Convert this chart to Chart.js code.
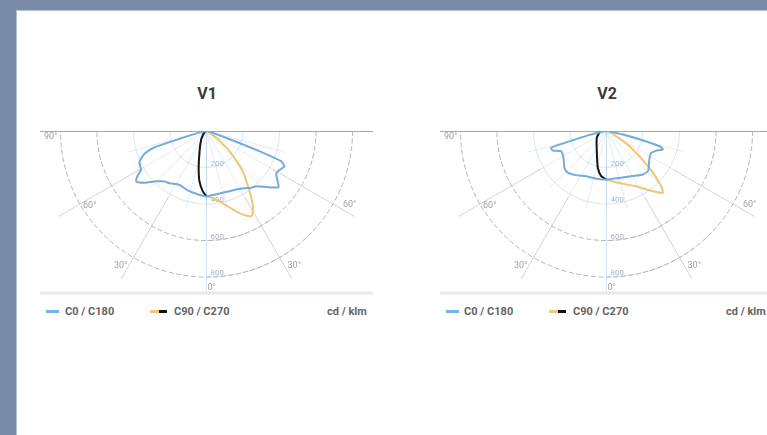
<!DOCTYPE html>
<html>
<head>
<meta charset="utf-8">
<script src="https://cdn.jsdelivr.net/npm/chart.js@4/dist/chart.umd.min.js"></script>
<style>
  body { margin: 0; width: 767px; height: 435px; overflow: hidden; background: #7b8cab; font-family: Roboto, "Noto Sans", sans-serif; }
  #page { position: absolute; left: 16px; top: 10px; width: 760px; height: 430px; background: #fff; border-left: 1px solid #b4bfd2; border-top: 1px solid #b4bfd2; }
  .panel { position: absolute; top: 0; width: 400px; height: 435px; }
  .title { position: absolute; left: 157px; top: 84px; width: 100px; text-align: center; font-size: 16px; line-height: 20px; font-weight: bold; color: #3c3c3c; }
  canvas { position: absolute; left: 30px; top: 120px; }
  .sw { position: absolute; top: 310px; height: 2.5px; }
  .lg { position: absolute; top: 305px; font-size: 11px; line-height: 13px; font-weight: bold; color: #646464; white-space: nowrap; }
</style>
</head>
<body>
<div id="page"></div>

<div class="panel" style="left:0px">
  <div class="title">V1</div>
  <canvas id="chartV1" width="353" height="185"></canvas>
  <div class="sw" style="left:46px;width:13px;background:#7ab3e2"></div>
  <div class="lg" style="left:65px">C0 / C180</div>
  <div class="sw" style="left:150px;width:9px;background:#f0c776"></div>
  <div class="sw" style="left:159px;width:8px;background:#111"></div>
  <div class="lg" style="left:174px">C90 / C270</div>
  <div class="lg" style="left:327px">cd / klm</div>
</div>

<div class="panel" style="left:400px">
  <div class="title">V2</div>
  <canvas id="chartV2" width="353" height="185"></canvas>
  <div class="sw" style="left:46px;width:13px;background:#7ab3e2"></div>
  <div class="lg" style="left:64px">C0 / C180</div>
  <div class="sw" style="left:149px;width:9px;background:#f0c776"></div>
  <div class="sw" style="left:158px;width:8px;background:#111"></div>
  <div class="lg" style="left:173px">C90 / C270</div>
  <div class="lg" style="left:326px">cd / klm</div>
</div>

<script>
// angles in degrees from nadir: negative = C180 / C270 side (left), positive = C0 / C90 side (right)
const v1C0Angles = [-90, -80, -76, -74, -72.5, -70, -67.5, -65.5, -62, -59.5, -57, -54.5, -51.5, -49, -45, -40, -35, -27, -18, -8, 0, 10, 21, 30, 38, 42, 46, 49.5, 52, 54.5, 58, 60.5, 63, 65.5, 68, 69, 70, 72, 78, 90];
const v1C0Values = [0, 20, 60, 150, 300, 360, 385, 403, 412, 415, 450, 473, 455, 429, 390, 360, 350, 330, 340, 350, 358, 350, 353, 365, 395, 407, 440, 476, 500, 480, 450, 448, 458, 469, 441, 320, 180, 60, 15, 0];
const v1C270Angles = [-90, -70, -55, -45, -32, -19, -12, -8, -3.5, 0];
const v1C270Values = [8, 10, 14, 25, 55, 117, 206, 278, 331, 358];
const v1C90Angles = [0, 8, 17, 23.5, 27.7, 30, 33, 35.5, 42, 48.7, 55, 65, 80, 90];
const v1C90Values = [358, 379, 439, 499, 527, 507, 460, 405, 297, 168, 65, 18, 5, 0];

const v2C0Angles = [-90, -82, -77, -75.5, -74, -73, -70, -66, -62, -55, -49, -43, -35, -24, -12, 0, 15, 30, 40, 46, 52, 58, 64, 68, 72, 74, 77, 82, 90];
const v2C0Values = [0, 20, 100, 150, 250, 317, 313, 272, 272, 285, 306, 312, 295, 271, 267, 266, 266, 285, 311, 316, 295, 278, 273, 290, 325, 302, 129, 20, 0];
const v2C270Angles = [-90, -83, -55, -25.6, -13.3, -6.7, 0];
const v2C270Values = [35, 38, 65, 123, 207, 249, 266];
const v2C90Angles = [0, 14, 28, 37.6, 42.3, 44.7, 49.4, 56.5, 62, 75, 90];
const v2C90Values = [266, 293, 343, 416, 458, 426, 310, 151, 60, 15, 0];

const rings = [200, 400, 600, 800];
const spokes = [30, 60];

const toXY = (angles, values) => angles.map((a, i) => {
  const r = a * Math.PI / 180;
  return { x: values[i] * Math.sin(r), y: -values[i] * Math.cos(r) };
});

const polarGrid = {
  id: "polarGrid",
  beforeDatasetsDraw(chart) {
    const { ctx, chartArea: a, scales: { x, y } } = chart;
    const cx = x.getPixelForValue(0);
    const cy = y.getPixelForValue(0);
    const rx = (v) => x.getPixelForValue(v) - cx;
    const ry = (v) => y.getPixelForValue(-v) - cy;
    const pt = (deg, v) => {
      const r = deg * Math.PI / 180;
      return [x.getPixelForValue(v * Math.sin(r)), y.getPixelForValue(-v * Math.cos(r))];
    };
    ctx.save();

    // faint inner grid
    ctx.strokeStyle = "rgba(140,180,215,0.35)";
    ctx.lineWidth = 1;
    [200, 400].forEach((v) => {
      ctx.beginPath();
      ctx.ellipse(cx, cy, rx(v), ry(v), 0, 0, Math.PI);
      ctx.stroke();
    });
    [600, 800].forEach((v) => {
      ctx.beginPath();
      ctx.ellipse(cx, cy, rx(v), ry(v), 0, Math.PI * 0.5 - 0.65, Math.PI * 0.5);
      ctx.stroke();
    });
    ctx.strokeStyle = "rgba(140,180,215,0.25)";
    for (let d = -75; d <= 75; d += 15) {
      const [x1, y1] = pt(d, 440);
      ctx.beginPath();
      ctx.moveTo(cx, cy);
      ctx.lineTo(x1, y1);
      ctx.stroke();
    }
    ctx.strokeStyle = "rgba(150,180,210,0.35)";
    ctx.beginPath();
    ctx.moveTo(cx, cy);
    ctx.lineTo(cx, a.bottom);
    ctx.stroke();

    // dashed outer rings
    ctx.strokeStyle = "#a2a2a2";
    ctx.lineWidth = 0.8;
    ctx.setLineDash([5, 2.5]);
    [600, 800].forEach((v) => {
      ctx.beginPath();
      ctx.ellipse(cx, cy, rx(v), ry(v), 0, 0, Math.PI);
      ctx.stroke();
    });
    ctx.setLineDash([]);

    // spokes
    ctx.strokeStyle = "#c6c6c6";
    spokes.forEach((s) => {
      [-s, s].forEach((d) => {
        const [x0, y0] = pt(d, 420);
        const [x1, y1] = pt(d, 935);
        ctx.beginPath();
        ctx.moveTo(x0, y0);
        ctx.lineTo(x1, y1);
        ctx.stroke();
      });
    });

    // top and bottom rules
    ctx.strokeStyle = "#a8a8a8";
    ctx.lineWidth = 1;
    ctx.beginPath();
    ctx.moveTo(a.left, cy + 0.5);
    ctx.lineTo(a.right, cy + 0.5);
    ctx.stroke();
    ctx.strokeStyle = "#efe7e7";
    ctx.lineWidth = 3;
    ctx.beginPath();
    ctx.moveTo(a.left, a.bottom);
    ctx.lineTo(a.right, a.bottom);
    ctx.stroke();

    // labels
    ctx.font = "9px Roboto, sans-serif";
    ctx.fillStyle = "#a0a0a0";
    ctx.textBaseline = "middle";
    let p = pt(-90, 800);
    ctx.textAlign = "right";
    ctx.fillText("90°", p[0] - 3, p[1] + 6);
    p = pt(-60, 800);
    ctx.textAlign = "left";
    ctx.fillText("60°", p[0] + 3, p[1] + 2);
    p = pt(60, 800);
    ctx.fillText("60°", p[0] + 10, p[1] + 1);
    p = pt(-30, 800);
    ctx.textAlign = "right";
    ctx.fillText("30°", p[0] - 6, p[1] + 8);
    p = pt(30, 800);
    ctx.textAlign = "left";
    ctx.fillText("30°", p[0] + 8, p[1] + 8);
    p = pt(0, 800);
    ctx.fillText("0°", cx + 1, p[1] + 11);

    ctx.font = "8px Roboto, sans-serif";
    rings.forEach((v) => {
      ctx.fillStyle = v < 600 ? "rgba(130,150,170,0.7)" : "#aab2ba";
      ctx.fillText(String(v), cx + 4, cy + ry(v) - 4);
    });
    ctx.restore();
  },
};

const makeChart = (id, c0A, c0V, c270A, c270V, c90A, c90V) => {
  const ctx = document.getElementById(id).getContext("2d");
  return new Chart(ctx, {
    type: "scatter",
    data: {
      datasets: [
        { label: "C0 / C180", data: toXY(c0A, c0V), showLine: true, borderColor: "#74abdc", borderWidth: 2, tension: 0.2 },
        { label: "C90", data: toXY(c90A, c90V), showLine: true, borderColor: "#efc676", borderWidth: 2, tension: 0.2 },
        { label: "C270", data: toXY(c270A, c270V), showLine: true, borderColor: "#151515", borderWidth: 2, tension: 0.2 },
      ],
    },
    options: {
      responsive: false,
      animation: false,
      layout: { padding: { left: 10, right: 10, top: 11, bottom: 12 } },
      elements: { point: { radius: 0, hoverRadius: 0 } },
      plugins: { legend: { display: false }, tooltip: { enabled: false } },
      scales: {
        x: { type: "linear", min: -912, max: 912, display: false },
        y: { type: "linear", min: -887, max: 0, display: false },
      },
    },
    plugins: [polarGrid],
  });
};

makeChart("chartV1", v1C0Angles, v1C0Values, v1C270Angles, v1C270Values, v1C90Angles, v1C90Values);
makeChart("chartV2", v2C0Angles, v2C0Values, v2C270Angles, v2C270Values, v2C90Angles, v2C90Values);
</script>
</body>
</html>
